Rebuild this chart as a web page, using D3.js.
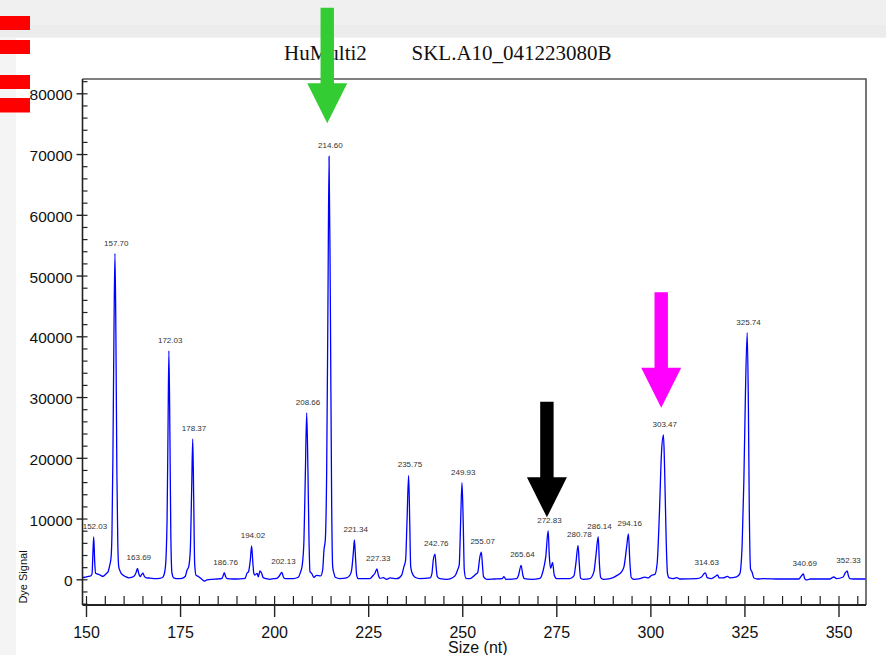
<!DOCTYPE html>
<html>
<head>
<meta charset="utf-8">
<script src="https://cdn.jsdelivr.net/npm/d3@7"></script>
<style>
  body { margin: 0; background: #fff; }
  svg { display: block; }
</style>
</head>
<body>
<div class="vis-trace"></div>
<script>
// electropherogram trace (size in nt, dye signal)
const traceSize = [
  148.95, 149.3, 149.8, 150.4, 150.9, 151.3, 151.6, 151.85, 152.05, 152.3, 152.55, 152.9, 153.4, 154.0, 154.5, 155.0, 155.5, 155.9, 156.3, 156.65, 156.9, 157.15, 157.45, 157.7, 157.95, 158.2, 158.45, 158.7, 159.1, 159.8,
  160.5, 161.3, 162.3, 162.9, 163.3, 163.69, 164.0, 164.4, 164.8, 165.15, 165.5, 166.0, 167.0, 168.5, 169.5, 170.2, 170.6, 171.0, 171.3, 171.55, 171.8, 172.03, 172.3, 172.55, 172.85, 173.3, 174.5, 175.5, 176.4, 176.84, 177.3, 177.72, 178.08, 178.37, 178.62, 178.88, 179.23, 179.95,
  180.8, 181.5, 182.15, 183.5, 185.0, 186.14, 186.45, 186.76, 187.1, 187.5, 189.0, 191.0, 192.3, 192.78, 193.2, 193.67, 194.02, 194.3, 194.6, 194.9, 195.5, 195.8, 196.24, 196.68, 197.1, 198.0, 198.9, 199.8,
  200.7, 201.37, 202.05, 202.43, 202.9, 205.1, 206.4, 207.05, 207.48, 207.93, 208.3, 208.66, 209.0, 209.27, 209.53, 209.98, 210.59, 211.3, 212.37, 212.9, 213.25, 213.6, 213.96, 214.3, 214.6, 214.95, 215.3, 215.56, 215.9, 216.26, 217.5, 219.28,
  220.16, 220.6, 221.04, 221.34, 221.67, 221.93, 222.37, 225.47, 226.2, 226.8, 227.33, 227.7, 228.13, 229.0, 229.9, 230.8, 232.57, 233.9, 234.5, 234.95, 235.3, 235.75, 236.05, 236.3, 236.72, 237.43, 238.76, 241.42, 241.95, 242.3, 242.76, 243.05, 243.37, 244.07,
  246.0, 247.5, 248.3, 248.8, 249.2, 249.55, 249.93, 250.27, 250.54, 250.98, 252.05, 253.11, 253.64, 254.1, 254.7, 255.07, 255.4, 255.65, 256.5, 258.5, 260.6, 261.08, 261.6, 264.45, 264.98, 265.64, 266.1, 266.5, 268.5,
  270.65, 271.54, 272.2, 272.83, 273.15, 273.5, 274.0, 274.45, 275.08, 278.62, 279.68, 280.2, 280.78, 281.1, 281.46, 282.16, 283.9, 285.0, 285.5, 286.14, 286.45, 286.8, 287.5, 289.28, 291.05, 292.38, 292.99, 293.7, 294.16, 294.57, 294.92, 295.63, 297.23, 298.55, 299.43,
  300.32, 301.2, 301.8, 302.4, 302.95, 303.47, 303.75, 304.2, 304.55, 305.02, 306.08, 306.98, 307.86, 312.29, 313.62, 314.23, 314.63, 315.1, 316.27, 317.41, 317.85, 318.29, 319.35, 320.52, 321.13, 322.9, 323.78, 324.4, 324.85, 325.25, 325.74, 326.05, 326.3, 326.64, 326.99, 327.52, 328.5,
  330.0, 334.4, 339.5, 339.93, 340.69, 341.0, 341.52, 342.5, 347.7, 348.33, 348.76, 349.47, 351.24, 351.69, 352.33, 352.6, 353.0, 353.9, 357.3
];
const traceSignal = [
  400, 300, 350, 450, 500, 600, 900, 4500, 7000, 3000, 1000, 900, 800, 600, 500, 700, 1000, 1300, 2300, 3500, 7500, 20000, 42000, 53600, 40000, 18000, 6000, 2100, 1300, 700,
  450, 250, 350, 600, 1100, 1800, 1000, 450, 800, 1000, 500, 250, 200, 100, 150, 250, 500, 1500, 4000, 10000, 24600, 37600, 24000, 7000, 1000, 250, 100, 150, 500, 1500, 2100, 4800, 14700, 23100, 13600, 2600, 700, 430,
  0, -280, -100, 0, 50, 170, 600, 1100, 450, 100, 50, 80, 170, 990, 1260, 3180, 5480, 3180, 990, 700, 990, 420, 1370, 990, 270, 100, 0, 100,
  160, 550, 1150, 430, 100, 100, 330, 1260, 2350, 6470, 17400, 27400, 17400, 6470, 1260, 990, 330, 660, 550, 1530, 4820, 6470, 17400, 44800, 69600, 44800, 11900, 2080, 990, 330, 100, 220,
  700, 1530, 4270, 6470, 3180, 700, 100, 100, 550, 990, 1700, 700, 160, 270, 0, 220, 100, 700, 2080, 3180, 9190, 17100, 9190, 2080, 990, 330, 100, 220, 990, 3180, 4160, 2080, 440, 100,
  0, 300, 800, 1600, 2400, 9000, 15900, 9000, 1530, 160, 110, 550, 880, 1100, 3730, 4490, 2080, 440, 0, 50, 100, 440, 0, 110, 710, 2300, 710, 110, 0,
  160, 1530, 3730, 8010, 3730, 1810, 2800, 710, 110, 110, 550, 2630, 5590, 2630, 160, 0, 110, 1260, 3730, 7020, 2630, 270, 0, 110, 600, 1260, 2080, 5370, 7460, 2630, 270, 0, 110, 350, 220,
  660, 820, 2600, 10870, 20750, 23750, 19100, 6470, 990, 220, 110, 270, 50, 100, 380, 930, 1060, 270, 110, 550, 710, 220, 220, 490, 220, 380, 930, 5860, 16290, 30000, 40600, 28500, 11000, 1650, 1260, 220, 50,
  110, 50, 50, 380, 870, 110, -110, 50, 50, 270, 380, 110, 380, 930, 1400, 660, 110, 50, 50
];

// called peaks
const peakSize = [152.03, 157.70, 163.69, 172.03, 178.37, 186.76, 194.02, 202.13, 208.66, 214.60, 221.34, 227.33, 235.75,
  242.76, 249.93, 255.07, 265.64, 272.83, 280.78, 286.14, 294.16, 303.47, 314.63, 325.74, 340.69, 352.33];
const peakHeight = [7000, 53600, 1800, 37600, 23100, 1100, 5480, 1150, 27400, 69600, 6470, 1700, 17100,
  4160, 15900, 4490, 2300, 8010, 5590, 7020, 7460, 23750, 1060, 40600, 870, 1400];

// axes
const xMajor = [150, 175, 200, 225, 250, 275, 300, 325, 350];
const xMinor = d3.range(150, 356, 5);
const yMajor = [0, 10000, 20000, 30000, 40000, 50000, 60000, 70000, 80000];
const yMinor = d3.range(-4000, 82001, 2000);

// arrows: tip position (size, signal) and colour
const arrowSize = [214.12, 302.88, 272.5];
const arrowSignal = [75060, 28250, 10200];
const arrowColor = ["#33cc33", "#ff00ff", "#000000"];

const title1 = "HuMulti2";
const title2 = "SKL.A10_041223080B";

const W = 886, H = 655;
const svg = d3.select(".vis-trace").append("svg")
    .attr("width", W)
    .attr("height", H);

// window chrome
svg.append("rect").attr("x", 0).attr("y", 0).attr("width", W).attr("height", 37.5).attr("fill", "#f0f0f0");
svg.append("rect").attr("x", 0).attr("y", 25).attr("width", W).attr("height", 12.5).attr("fill", "#ececec");
svg.append("rect").attr("x", 0).attr("y", 37.5).attr("width", 16).attr("height", H - 37.5).attr("fill", "#f4f4f4");
[[16, 30], [40, 54], [75, 89], [98, 112.5]].forEach(b => {
    svg.append("rect").attr("x", 0).attr("y", b[0]).attr("width", 30).attr("height", b[1] - b[0]).attr("fill", "#ff0000");
});

const plotLeft = 82.5, plotRight = 866, plotTop = 79, plotBottom = 605;
const x = d3.scaleLinear().domain([149.07, 357.31]).range([plotLeft, plotRight]);
const y = d3.scaleLinear().domain([-4230, 82354]).range([plotBottom, plotTop]);

// title
svg.append("text").attr("x", 284).attr("y", 59.5)
    .style("font-family", "'Liberation Serif', 'Times New Roman', serif").style("font-size", "21px")
    .attr("fill", "#111").text(title1);
svg.append("text").attr("x", 411.5).attr("y", 59.5)
    .style("font-family", "'Liberation Serif', 'Times New Roman', serif").style("font-size", "21px")
    .attr("fill", "#111").text(title2);

// trace
svg.append("clipPath").attr("id", "plot-clip")
    .append("rect").attr("x", plotLeft).attr("y", plotTop).attr("width", plotRight - plotLeft).attr("height", plotBottom - plotTop);

const points = traceSize.map((s, i) => [s, traceSignal[i]]);
const line = d3.line()
    .x(d => x(d[0]))
    .y(d => y(d[1]))
    .curve(d3.curveMonotoneX);
svg.append("path")
    .datum(points)
    .attr("clip-path", "url(#plot-clip)")
    .attr("fill", "none")
    .attr("stroke", "#0000ff")
    .attr("stroke-width", 1.3)
    .attr("d", line);

// frame (top and right)
svg.append("path")
    .attr("d", `M${plotLeft},${plotTop}H${plotRight}V${plotBottom}`)
    .attr("fill", "none")
    .attr("stroke", "#555")
    .attr("stroke-width", 1.6);

const axisFont = "'Liberation Sans', Arial, sans-serif";

// y axis: major ticks outward with labels, minor ticks inward
const yAxis = svg.append("g")
    .attr("transform", `translate(${plotLeft},0)`)
    .call(d3.axisLeft(y).tickValues(yMajor).tickSize(6).tickFormat(d3.format("d")));
yAxis.select(".domain").remove();
yAxis.selectAll("line").attr("stroke", "#222").attr("stroke-width", 1.4);
yAxis.selectAll("text")
    .attr("x", -9.8)
    .attr("dy", "0.42em")
    .style("font-family", axisFont)
    .style("font-size", "15.5px")
    .attr("fill", "#111");

const yInner = svg.append("g")
    .attr("transform", `translate(${plotLeft},0)`)
    .call(d3.axisRight(y).tickValues(yMinor).tickSize(5).tickFormat(""));
yInner.select(".domain").remove();
yInner.selectAll("line").attr("stroke", "#222").attr("stroke-width", 1.2);

svg.append("line")
    .attr("x1", plotLeft).attr("x2", plotLeft).attr("y1", plotTop).attr("y2", plotBottom)
    .attr("stroke", "#222").attr("stroke-width", 1.6);

// x axis: major ticks crossing with labels, minor ticks inward
const xAxis = svg.append("g")
    .attr("transform", `translate(0,${plotBottom})`)
    .call(d3.axisBottom(x).tickValues(xMajor).tickSize(12));
xAxis.select(".domain").remove();
xAxis.selectAll("line").attr("stroke", "#222").attr("stroke-width", 1.4);
xAxis.selectAll("text")
    .attr("y", 21.5)
    .style("font-family", axisFont)
    .style("font-size", "16px")
    .attr("fill", "#111");

const xInner = svg.append("g")
    .attr("transform", `translate(0,${plotBottom})`)
    .call(d3.axisTop(x).tickValues(xMinor).tickSize(9).tickFormat(""));
xInner.select(".domain").remove();
xInner.selectAll("line").attr("stroke", "#222").attr("stroke-width", 1.2);

svg.append("line")
    .attr("x1", plotLeft).attr("x2", plotRight).attr("y1", plotBottom).attr("y2", plotBottom)
    .attr("stroke", "#222").attr("stroke-width", 1.8);

// peak labels, drawn over the axes
svg.selectAll(".peak-label")
    .data(peakSize)
    .enter()
    .append("text")
    .attr("class", "peak-label")
    .attr("x", d => x(d) + 1.3)
    .attr("y", (d, i) => y(peakHeight[i]) - 8)
    .attr("text-anchor", "middle")
    .style("font-family", axisFont)
    .style("font-size", "8px")
    .attr("fill", "#333")
    .text(d => d.toFixed(2));

// axis titles
svg.append("text")
    .attr("x", 448).attr("y", 652.5)
    .style("font-family", axisFont).style("font-size", "16px")
    .attr("fill", "#111")
    .text("Size (nt)");
svg.append("text")
    .attr("transform", "translate(26.5,577)rotate(-90)")
    .attr("text-anchor", "middle")
    .style("font-family", axisFont).style("font-size", "11px")
    .attr("fill", "#111")
    .text("Dye Signal");

// arrows pointing at peaks of interest
const shaftW = 13.4, headW = 40, headL = 40, shaftL = 75.5;
svg.selectAll(".arrow")
    .data(arrowSize)
    .enter()
    .append("path")
    .attr("class", "arrow")
    .attr("fill", (d, i) => arrowColor[i])
    .attr("d", (d, i) => {
        const tx = x(d), ty = y(arrowSignal[i]);
        const hy = ty - headL, sy = hy - shaftL;
        return `M${tx},${ty}L${tx - headW / 2},${hy}L${tx - shaftW / 2},${hy}L${tx - shaftW / 2},${sy}` +
            `L${tx + shaftW / 2},${sy}L${tx + shaftW / 2},${hy}L${tx + headW / 2},${hy}Z`;
    });
</script>
</body>
</html>
